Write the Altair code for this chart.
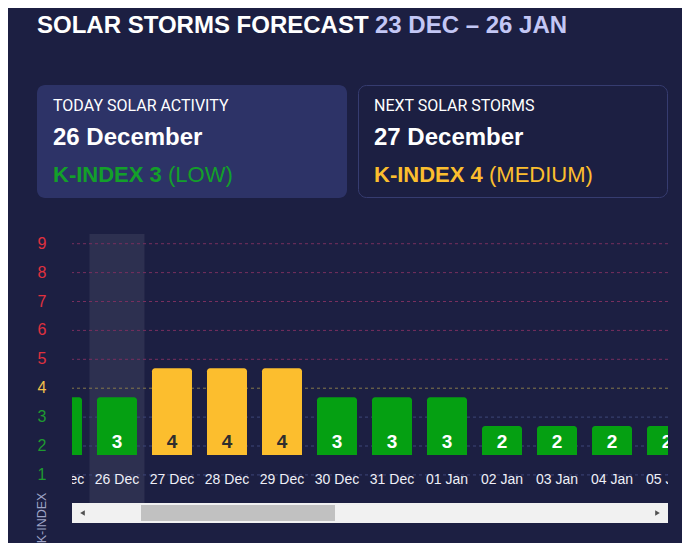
import altair as alt
import pandas as pd

# ---------------- data ----------------
dates = ["25 Dec", "26 Dec", "27 Dec", "28 Dec", "29 Dec", "30 Dec",
         "31 Dec", "01 Jan", "02 Jan", "03 Jan", "04 Jan", "05 Jan"]
kindex = [3, 3, 4, 4, 4, 3, 3, 3, 2, 2, 2, 2]
levels = [1, 2, 3, 4, 5, 6, 7, 8, 9]
today = "26 Dec"

title_main = "SOLAR STORMS FORECAST"
title_range = "23 DEC – 26 JAN"
card1_label = "TODAY SOLAR ACTIVITY"
card1_date = "26 December"
card1_k = "K-INDEX 3"
card1_level = "(LOW)"
card2_label = "NEXT SOLAR STORMS"
card2_date = "27 December"
card2_k = "K-INDEX 4"
card2_level = "(MEDIUM)"
y_title = "K-INDEX"

# ---------------- styling ----------------
BG = "#1c1f42"
CARD = "#2d3367"
CARD_STROKE = "#363c70"
GREEN = "#05a012"
YELLOW = "#fcbe2e"
RED = "#e0313e"
TXT_GREEN = "#13a02a"
FONT = "Liberation Sans"
W, H = 596, 269
BAR_SHIFT = 0.69  # bars are drawn slightly above the gridline grid

df = pd.DataFrame({"date": dates, "k": kindex})
df["pos"] = list(range(len(dates)))
lev_df = pd.DataFrame({"level": levels})

xscale = alt.Scale(domain=[0.182, 11.018], zero=False, nice=False, padding=0)
yscale = alt.Scale(domain=[0.028, 9.336], zero=False, nice=False, padding=0)

band_expr = "datum.k >= 5 ? 'high' : (datum.k == 4 ? 'medium' : 'low')"
lev_band = "datum.level >= 5 ? 'high' : (datum.level == 4 ? 'medium' : 'low')"
BANDS = ["low", "medium", "high"]

# highlight column for today
highlight = alt.Chart(df).transform_filter(
    f"datum.date == '{today}'"
).transform_calculate(
    x0="datum.pos - 0.5", x1="datum.pos + 0.5"
).mark_rect(color="#ffffff", opacity=0.08, clip=True).encode(
    x=alt.X("x0:Q", scale=xscale, axis=None),
    x2="x1:Q",
    y=alt.value(0),
    y2=alt.value(H),
)

# dashed gridlines
grid = alt.Chart(lev_df).transform_calculate(band=lev_band).mark_rule(
    strokeDash=[3, 3], strokeWidth=1
).encode(
    y=alt.Y("level:Q", scale=yscale, axis=None),
    color=alt.Color("band:N", scale=alt.Scale(
        domain=BANDS, range=["#3d4678", "#85794c", "#782f5e"]), legend=None),
)

# y-axis level labels
y_labels = alt.Chart(lev_df).transform_calculate(band=lev_band).mark_text(
    font=FONT, fontSize=16, align="center", baseline="middle"
).encode(
    x=alt.value(-30),
    y=alt.Y("level:Q", scale=yscale, axis=None),
    text="level:Q",
    color=alt.Color("band:N", scale=alt.Scale(
        domain=BANDS, range=["#1f9a30", "#f3c04a", RED]), legend=None),
)

bars = alt.Chart(df).transform_calculate(
    top=f"datum.k + {BAR_SHIFT}", base=f"1 + {BAR_SHIFT}", band=band_expr
).mark_bar(size=40, clip=True, cornerRadiusTopLeft=3,
           cornerRadiusTopRight=3).encode(
    x=alt.X("pos:Q", scale=xscale, axis=None),
    y=alt.Y("top:Q", scale=yscale, axis=None),
    y2="base:Q",
    color=alt.Color("band:N", scale=alt.Scale(
        domain=BANDS, range=[GREEN, YELLOW, RED]), legend=None),
)

bar_text = alt.Chart(df).transform_calculate(
    base=f"1 + {BAR_SHIFT}", band=band_expr
).mark_text(clip=True, dy=-13, font=FONT, fontSize=19, fontWeight="bold",
            baseline="middle").encode(
    x=alt.X("pos:Q", scale=xscale, axis=None),
    y=alt.Y("base:Q", scale=yscale, axis=None),
    text="k:Q",
    color=alt.Color("band:N", scale=alt.Scale(
        domain=BANDS, range=["#ffffff", "#2e2e2e", "#ffffff"]), legend=None),
)

x_labels = alt.Chart(df).mark_text(
    clip=True, font=FONT, fontSize=14, color="#eeeff7", baseline="middle"
).encode(
    x=alt.X("pos:Q", scale=xscale, axis=None),
    y=alt.value(246),
    text="date:N",
)


def label(txt, x, y, size, color="#ffffff", weight="normal", font=FONT,
          baseline="alphabetic", angle=0, align="left"):
    return alt.Chart(pd.DataFrame({"t": [txt]})).mark_text(
        font=font, fontSize=size, fontWeight=weight, color=color,
        align=align, baseline=baseline, angle=angle
    ).encode(text="t:N", x=alt.value(x), y=alt.value(y))


def box(x0, x1, y0, y1, fill, stroke=None):
    kw = dict(color=fill, cornerRadius=8)
    if stroke:
        kw.update(stroke=stroke, strokeWidth=1)
    return alt.Chart(pd.DataFrame({"a": [0]})).mark_rect(**kw).encode(
        x=alt.value(x0), x2=alt.value(x1), y=alt.value(y0), y2=alt.value(y1))


card1 = box(-35, 275, -149, -36, CARD)
card2 = box(286.5, 595.5, -148.5, -36.5, BG, CARD_STROKE)

header = [
    label(title_main, -35, -201, 24, weight="bold"),
    label(title_range, 303, -201, 24, color="#c3c7f5", weight="bold"),
    label(card1_label, -19, -123, 16, font="Roboto"),
    label(card1_date, -19, -89, 24, weight="bold"),
    label(card1_k, -19, -52, 22, color=TXT_GREEN, weight="bold"),
    label(card1_level, 96, -52, 22, color=TXT_GREEN),
    label(card2_label, 302, -123, 16, font="Roboto"),
    label(card2_date, 302, -89, 24, weight="bold"),
    label(card2_k, 302, -52, 22, color=YELLOW, weight="bold"),
    label(card2_level, 417, -52, 22, color=YELLOW),
]

ytitle = label(y_title, -30.5, 284, 12.5, color="#9ea3c6", baseline="middle",
               angle=270, align="center")

# scrollbar decoration
track = alt.Chart(pd.DataFrame({"a": [0]})).mark_rect(color="#f1f1f1").encode(
    x=alt.value(0), x2=alt.value(W), y=alt.value(269), y2=alt.value(289))
thumb = alt.Chart(pd.DataFrame({"a": [0]})).mark_rect(color="#c1c1c1").encode(
    x=alt.value(69), x2=alt.value(263), y=alt.value(271), y2=alt.value(287))
arrow_l = alt.Chart(pd.DataFrame({"a": [0]})).mark_point(
    shape="triangle-left", filled=True, size=28, color="#505050", opacity=1
).encode(x=alt.value(10.5), y=alt.value(279))
arrow_r = alt.Chart(pd.DataFrame({"a": [0]})).mark_point(
    shape="triangle-right", filled=True, size=28, color="#505050", opacity=1
).encode(x=alt.value(585.5), y=alt.value(279))

chart = alt.layer(
    card1, card2, *header, highlight, grid, y_labels, bars, bar_text,
    x_labels, ytitle, track, thumb, arrow_l, arrow_r
).resolve_scale(color="independent").properties(
    width=W, height=H, background=BG,
    autosize=alt.AutoSizeParams(type="none"),
    padding={"left": 64, "top": 226, "right": 14, "bottom": 40},
).configure_view(stroke=None)

chart.save("out.html", embed_options={"renderer": "svg", "actions": False})
